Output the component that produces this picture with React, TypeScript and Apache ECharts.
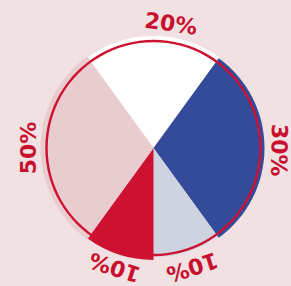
import React, { useEffect, useRef } from "react";
import * as echarts from "echarts";

const categories = ["A", "B", "C", "D", "E"];
const values = [20, 30, 10, 10, 30];
const labels = ["20%", "30%", "10%", "10%", "50%"];
const colors = ["#ffffff", "#344b9b", "#cfd3e0", "#cc1230", "#e9ccd0"];
const sliceRadius = [112, 111, 109, 112, 113];
const labelAngleShift = [8, 1, 0, 0, 0];

const CX = 153.5;
const CY = 148;
const START = 126; // degrees, ECharts convention
const LABEL_R = 125.5;

export default function App() {
  const ref = useRef<HTMLDivElement>(null);
  useEffect(() => {
    if (!ref.current) return;
    const chart = echarts.init(ref.current, null, { renderer: "svg" });
    const total = values.reduce((a, b) => a + b, 0);
    const startFromTop = 90 - START; // clockwise degrees from top
    const mids: number[] = [];
    let acc = 0;
    values.forEach((v) => {
      const a0 = startFromTop + (acc / total) * 360;
      acc += v;
      const a1 = startFromTop + (acc / total) * 360;
      mids.push((a0 + a1) / 2);
    });

    const sliceSeries = values.map((_, i) => ({
      type: "pie",
      center: [CX, CY],
      radius: [0, sliceRadius[i]],
      startAngle: START,
      clockwise: true,
      silent: true,
      z: 1,
      label: { show: false },
      labelLine: { show: false },
      data: categories.map((c, j) => ({
        name: c,
        value: values[j],
        itemStyle: { color: j === i ? colors[i] : "rgba(0,0,0,0)", borderWidth: 0 },
      })),
    }));

    const option: any = {
      animation: false,
      backgroundColor: "#f2e1e3",
      series: [
        ...sliceSeries,
        {
          type: "pie",
          center: [CX, CY],
          radius: [105.8, 108.2],
          silent: true,
          z: 3,
          label: { show: false },
          labelLine: { show: false },
          data: [{ value: 1, itemStyle: { color: "#cc1230" } }],
        },
        {
          type: "pie",
          center: [CX, CY],
          radius: [0, 111],
          startAngle: START,
          clockwise: true,
          silent: true,
          avoidLabelOverlap: false,
          z: 4,
          itemStyle: { color: "rgba(0,0,0,0)", borderWidth: 0 },
          label: {
            show: true,
            position: "inside",
            formatter: (p: any) => labels[p.dataIndex],
            color: "#c8102e",
            fontFamily: "DejaVu Sans",
            fontWeight: "bold",
            fontSize: 22,
          },
          labelLine: { show: false },
          labelLayout: (p: any) => {
            const a = mids[p.dataIndex] + labelAngleShift[p.dataIndex];
            const r = (a * Math.PI) / 180;
            return {
              x: CX + LABEL_R * Math.sin(r),
              y: CY - LABEL_R * Math.cos(r),
              rotate: -a,
              align: "center",
              verticalAlign: "middle",
            };
          },
          data: categories.map((c, j) => ({ name: c, value: values[j] })),
        },
      ],
    };
    chart.setOption(option);
    return () => chart.dispose();
  }, []);
  return (
    <div
      ref={ref}
      style={{ position: "fixed", left: 0, top: 0, width: 291, height: 286 }}
    />
  );
}
